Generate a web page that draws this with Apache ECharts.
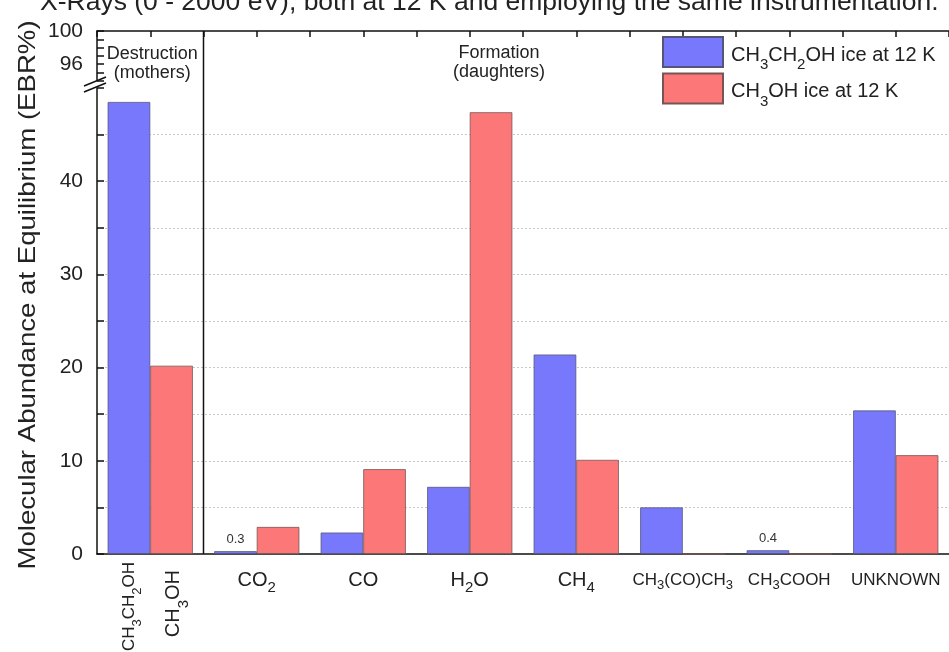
<!DOCTYPE html>
<html><head><meta charset="utf-8">
<script src="https://cdn.jsdelivr.net/npm/echarts@6/dist/echarts.min.js"></script>
<style>html,body{margin:0;padding:0;background:#fff}#c{width:949px;height:652px}</style>
</head><body><div id="c"></div>
<script>
// ---- data ----
const categories = ['mothers', 'CO2', 'CO', 'H2O', 'CH4', 'CH3(CO)CH3', 'CH3COOH', 'UNKNOWN'];
const motherLabels = ['CH3CH2OH', 'CH3OH'];
const ethanolIce = [48.5, 0.3, 2.3, 7.2, 21.4, 5.0, 0.4, 15.4];
const methanolIce = [20.2, 2.9, 9.1, 47.4, 10.1, 0, 0, 10.6];
const seriesFormulas = ['CH3CH2OH', 'CH3OH'];
const seriesSuffix = ' ice at 12 K';
const seriesNames = seriesFormulas.map(f => f + seriesSuffix);
const lowerTickLabels = [0, 10, 20, 30, 40];
const upperTickLabels = [96, 100];
const smallLabels = ['CH3(CO)CH3', 'CH3COOH', 'UNKNOWN'];
const valueLabels = {1: '0.3', 6: '0.4'};
const groupNotes = ['Destruction\n(mothers)', 'Formation\n(daughters)'];
const yName = 'Molecular Abundance at Equilibrium (EBR%)';
const titleText = 'X-Rays (0 - 2000 eV), both at 12 K and employing the same instrumentation.';

const FONT = 'Arial, "Liberation Sans", sans-serif';
const BLUE = '#7878fc', RED = '#fc7878';

function chem(s, big, small) {
  return s.split(/(\d+)/).map((p, i) => p === '' ? '' : (i % 2 ? '{' + small + '|' + p + '}' : '{' + big + '|' + p + '}')).join('');
}

const chart = echarts.init(document.getElementById('c'), null, {renderer: 'canvas'});

const L = 97, R = -9;
const option = {
  backgroundColor: '#ffffff',
  animation: false,
  grid: [
    {left: L, right: R, top: 88, bottom: 98},
    {left: L, right: R, top: 31, height: 49.5}
  ],
  legend: {
    data: seriesNames, left: 662, top: 36, orient: 'vertical', padding: 0,
    itemWidth: 60, itemHeight: 30, itemGap: 0, icon: 'rect',
    formatter: name => chem(seriesFormulas[seriesNames.indexOf(name)], 'n', 's') + '{n|' + seriesSuffix + '}',
    textStyle: {
      padding: [0, 0, 0, 3],
      rich: {
        n: {fontSize: 20, fontFamily: FONT, color: '#222', padding: [6, 0, 0, 0]},
        s: {fontSize: 15, fontFamily: FONT, color: '#222', padding: [26, 0, 0, 0]}
      }
    }
  },
  xAxis: [
    {
      type: 'category', gridIndex: 0, data: categories,
      axisLine: {lineStyle: {color: '#111', width: 1.5}},
      axisTick: {alignWithLabel: true, length: 6, lineStyle: {color: '#111', width: 1.5}},
      axisLabel: {
        interval: 0, margin: 11,
        formatter: (v, i) => i === 0 ? '' : (smallLabels.includes(v) ? chem(v, 'm', 'ms') : chem(v, 'n', 's')),
        rich: {
          n: {fontSize: 20, fontFamily: FONT, color: '#222', padding: [5, 0, 5, 0]},
          s: {fontSize: 15, fontFamily: FONT, color: '#222', padding: [15, 0, 0, 0]},
          m: {fontSize: 17, fontFamily: FONT, color: '#222', padding: [6.5, 0, 6.5, 0]},
          ms: {fontSize: 13, fontFamily: FONT, color: '#222', padding: [10, 0, 0, 0]}
        }
      },
      splitLine: {show: false}
    },
    {
      type: 'value', gridIndex: 1, position: 'top', min: 0, max: 16, interval: 1,
      axisLine: {show: true, lineStyle: {color: '#111', width: 1.5}},
      axisTick: {show: true, inside: true, length: 6, lineStyle: {color: '#111', width: 1.5}},
      axisLabel: {show: false}, splitLine: {show: false}
    }
  ],
  yAxis: [
    {
      type: 'value', gridIndex: 0, min: 0, max: 50, interval: 5,
      axisLine: {show: true, lineStyle: {color: '#111', width: 1.5}},
      axisTick: {show: true, inside: true, length: 7, lineStyle: {color: '#111', width: 1.5}},
      axisLabel: {
        margin: 14, fontSize: 21, fontFamily: FONT, color: '#222',
        formatter: v => lowerTickLabels.includes(v) ? String(v) : ''
      },
      splitLine: {show: true, showMinLine: false, showMaxLine: false, lineStyle: {color: '#c8c8c8', type: [2, 2], width: 1}}
    },
    {
      type: 'value', gridIndex: 1, min: 94, max: 100, interval: 1,
      axisLine: {show: true, lineStyle: {color: '#111', width: 1.5}},
      axisTick: {show: true, inside: true, length: 7, lineStyle: {color: '#111', width: 1.5}},
      axisLabel: {
        margin: 14, fontSize: 21, fontFamily: FONT, color: '#222',
        formatter: v => upperTickLabels.includes(v) ? String(v) : ''
      },
      splitLine: {show: false}
    }
  ],
  series: [
    {
      name: seriesNames[0], type: 'bar', xAxisIndex: 0, yAxisIndex: 0,
      barGap: '0%', barCategoryGap: '20%',
      itemStyle: {color: BLUE, borderColor: '#555577', borderWidth: 0.8},
      data: ethanolIce.map((v, i) => valueLabels[i] ? {
        value: v,
        label: {show: true, position: 'top', distance: 5, formatter: valueLabels[i], fontSize: 13, fontFamily: FONT, color: '#333'}
      } : v)
    },
    {
      name: seriesNames[1], type: 'bar', xAxisIndex: 0, yAxisIndex: 0,
      barGap: '0%', barCategoryGap: '20%',
      itemStyle: {color: RED, borderColor: '#775555', borderWidth: 0.8},
      data: methanolIce
    }
  ]
};
chart.setOption(option);

// decorations positioned from the axes
const c0 = chart.convertToPixel({xAxisIndex: 0}, 0);
const c1 = chart.convertToPixel({xAxisIndex: 0}, 1);
const band = c1 - c0;
const sepX = (c0 + c1) / 2;
const yTop = chart.convertToPixel({yAxisIndex: 1}, 100);
const yBot = chart.convertToPixel({yAxisIndex: 0}, 0);
const barW = band * 0.4;

const richRot = {
  n: {fontSize: 17, fontFamily: FONT, fill: '#222'},
  s: {fontSize: 13, fontFamily: FONT, fill: '#222', padding: [16, 0, 0, 0]},
  N: {fontSize: 20, fontFamily: FONT, fill: '#222'},
  S: {fontSize: 15, fontFamily: FONT, fill: '#222', padding: [20, 0, 0, 0]}
};

chart.setOption({
  graphic: [
    {type: 'line', shape: {x1: sepX, y1: yTop, x2: sepX, y2: yBot}, style: {stroke: '#111', lineWidth: 1.5}, silent: true},
    {type: 'line', shape: {x1: L - 13, y1: 86, x2: L + 9, y2: 77}, style: {stroke: '#111', lineWidth: 1.5}},
    {type: 'line', shape: {x1: L - 13, y1: 92, x2: L + 9, y2: 83}, style: {stroke: '#111', lineWidth: 1.5}},
    {type: 'text', x: c0 + 2, y: 45, style: {text: groupNotes[0], font: '18px ' + FONT, fill: '#222', align: 'center', verticalAlign: 'top', lineHeight: 19}},
    {type: 'text', x: 499, y: 44, style: {text: groupNotes[1], font: '18px ' + FONT, fill: '#222', align: 'center', verticalAlign: 'top', lineHeight: 19}},
    {type: 'text', x: c0 - barW / 2, y: 562, rotation: Math.PI / 2,
      style: {text: chem(motherLabels[0], 'n', 's'), rich: richRot, align: 'right', verticalAlign: 'middle'}},
    {type: 'text', x: c0 + barW / 2 + 2, y: 570, rotation: Math.PI / 2,
      style: {text: chem(motherLabels[1], 'N', 'S'), rich: richRot, align: 'right', verticalAlign: 'middle'}},
    {type: 'text', x: 28, y: 295, rotation: Math.PI / 2, scaleX: 1.15,
      style: {text: yName, font: '24px ' + FONT, fill: '#222', align: 'center', verticalAlign: 'middle'}},
    {type: 'text', x: 40, y: 3, style: {text: titleText, font: '26.5px ' + FONT, fill: '#222', align: 'left', verticalAlign: 'middle'}}
  ]
});
</script>
</body></html>
